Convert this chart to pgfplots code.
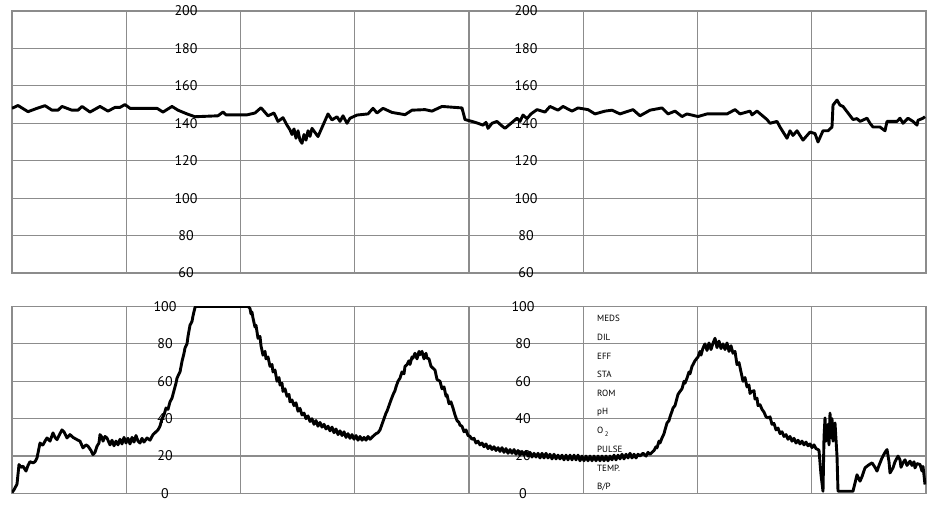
\documentclass[border=0pt]{standalone}
\usepackage{pgfplots}
\pgfplotsset{compat=1.18}
\usepackage{fontspec}
\setmainfont{PT Sans}
\definecolor{gridgray}{HTML}{8C8C8C}
\pgfplotsset{
  ctg/.style={
    anchor=south west, scale only axis, width=914pt,
    xmin=12, xmax=926,
    xtick={12,126.25,240.5,354.75,469,583.25,697.5,811.75,926},
    xticklabels={}, yticklabels={},
    major tick length=0pt,
    grid=major,
    major grid style={gridgray, line width=1.2pt},
    axis line style={gridgray, line width=1.2pt},
    clip mode=individual,
  },
  trace/.style={black, line width=2.9pt, line join=round, no marks},
}
\begin{document}
\begin{tikzpicture}
\path[use as bounding box] (0,0) rectangle (934pt,511pt);
% ---------------- top panel: FHR ----------------
\begin{axis}[ctg, at={(12pt,238pt)}, height=262pt, ymin=60, ymax=200,
  ytick={60,80,100,120,140,160,180,200}]
\addplot[trace] coordinates {
(12,148) (18,149.5) (28,146.2) (37,148) (45,149.4) (52,147) (58,147) (62,149)
(72,147) (78,147) (82,149) (90,146) (100,149) (108,146.5) (115,148.5) (120,148.5)
(125,150) (130,148) (157,148) (163,146) (172,149) (178,147) (187,145) (195,143.5)
(218,144) (223,146) (226,144.5) (247,144.5) (255,145.5) (261,148.3) (268,144)
(274,145.5) (278,141) (283,143) (287,139) (290,136.5) (292,134) (294,137) (296,132)
(298,136) (300,131) (302,129.3) (304,134) (306,131) (308,136) (310,133) (312,137.3)
(318,132.9) (328,145) (332,141.8) (337,143.5) (340,141) (343,144) (347,140)
(350,142.7) (357,144.4) (368,145) (373,148) (377,145.5) (383,148) (392,145.8)
(405,144.6) (412,147) (425,147.3) (432,146.5) (442,149) (462,148.2) (465,142)
(472,141) (478,140) (483,139) (486,140.5) (488,137.3) (492,140) (497,141) (501,139)
(505,137.3) (511,140) (517,142.7) (520,141) (523,144.4) (527,142.5) (531,145)
(537,147.3) (545,146) (550,149) (558,147) (563,149) (572,146.5) (578,148.2)
(588,147.3) (595,145) (605,146.5) (612,147) (620,145) (633,147.3) (640,144)
(650,147) (662,148.2) (668,145) (675,146.5) (682,143.6) (687,145) (698,143.6)
(707,145) (727,145) (735,147.3) (740,145) (750,146.5) (752,144.5) (757,146.5)
(767,142) (770,140) (777,141) (780,138) (787,132) (790,136) (793,133.5) (797,136)
(803,131) (810,135.3) (815,134.5) (818,130) (823,136) (828,136) (832,138)
(833,149.7) (837,152.4) (840,149.7) (843,149) (853,142) (857,142.5) (860,141)
(867,142.7) (870,140) (873,138) (880,138) (885,136) (887,141) (897,141) (900,142.7)
(903,140) (908,142.7) (913,141) (917,139) (918,141.6) (923,142.7) (925,143.5)
};
\begin{scope}[font=\fontsize{14}{16}\selectfont]
\node at (axis cs:186,200) {200};
\node at (axis cs:186,180) {180};
\node at (axis cs:186,160) {160};
\node at (axis cs:186,140) {140};
\node at (axis cs:186,120) {120};
\node at (axis cs:186,100) {100};
\node at (axis cs:186,80) {80};
\node at (axis cs:186,60) {60};
\node at (axis cs:526,200) {200};
\node at (axis cs:526,180) {180};
\node at (axis cs:526,160) {160};
\node at (axis cs:526,140) {140};
\node at (axis cs:526,120) {120};
\node at (axis cs:526,100) {100};
\node at (axis cs:526,80) {80};
\node at (axis cs:526,60) {60};
\end{scope}
\end{axis}
% ---------------- bottom panel: UC ----------------
\begin{axis}[ctg, at={(12pt,17.5pt)}, height=187pt, ymin=0, ymax=100,
  ytick={0,20,40,60,80,100}]
\addplot[trace] coordinates {
(12,0.5) (14,2) (17,5) (19,15.5) (21,14) (23,14.6) (26,12) (28,15) (30,17) (33,16.4)
(35,17) (37,19) (40,27) (42,26) (43,26) (45,28) (47,29.7) (50,28) (53,32.4) (55,30)
(57,28.8) (60,32) (62,34) (64,33) (67,29.7) (70,31.5) (73,30) (77,28.8) (80,28)
(83,24.4) (86,26) (88,25.3) (91,23) (93,20.8) (95,22) (97,25.3) (99,27) (100,31.5)
(102,30) (103,28) (105,30.5) (107,29.7) (110,26) (112,28.5) (114,25.5) (116,28)
(118,26) (120,29) (122,26.5) (124,30) (126,27) (128,29.5) (130,26.5) (132,30)
(134,27.5) (136,31) (138,28) (140,27) (142,29.5) (144,27.5) (147,29.7) (150,28.5)
(153,31.5) (156,33) (158,34) (160,36) (162,40) (164,42) (166,45.7) (168,45) (170,49)
(172,51) (174,55) (176,59) (177,61.7) (179,64) (180,65) (182,70.6) (184,75)
(185,77.8) (187,80) (188,84) (190,90) (192,92) (193,95) (195,99.5) (196,100)
(248,100) (250,99) (251,96) (252,97) (253,93.8) (255,89) (256,90) (258,83) (260,84)
(261,79) (263,74) (265,76) (266,72) (268,73) (270,68) (272,69) (273,65) (275,66)
(277,60) (279,62) (280,58) (282,59) (283,54.6) (285,56) (287,52) (289,53) (290,49)
(292,50) (294,47) (296,48.5) (298,44) (300,45.5) (302,42) (304,43) (306,40)
(308,41.5) (310,38.5) (312,40) (314,37) (316,39) (318,36) (320,38) (322,35.5)
(324,37) (326,34.5) (328,36) (330,33.5) (332,35.5) (334,32.5) (336,34.5) (338,31.5)
(340,33.5) (342,31) (344,33) (346,30) (348,32) (350,29.5) (352,31.5) (354,29)
(356,31) (358,28.5) (360,30.5) (362,28.5) (364,30) (366,28.5) (368,30.5) (370,29)
(373,30.6) (376,32) (378,32.5) (380,34) (382,37) (384,40) (386,43) (387,44) (389,47)
(391,50) (393,52.8) (395,55) (396,57) (398,60) (400,61.7) (402,65) (404,64) (405,68)
(407,68.9) (409,71) (410,69) (412,73) (413,72.4) (415,75) (417,72) (419,76)
(420,74.2) (422,76) (424,72) (426,75) (427,72.4) (429,72) (431,68) (433,67) (435,66)
(437,61) (440,60) (442,56) (444,57) (446,52) (447,52.8) (449,48) (451,49) (453,45.7)
(455,42) (457,39) (459,38) (460,36.5) (462,36) (464,33) (466,34) (468,31) (470,30.6)
(472,29) (474,29.5) (476,27) (478,28) (480,26) (482,27) (484,25) (486,26.5) (488,24)
(490,25.5) (492,23.5) (494,25) (496,23) (498,24.5) (500,22.5) (502,24.5) (504,22)
(506,24) (508,21.5) (510,23.5) (512,21.5) (514,23.5) (516,21) (518,23) (520,20.5)
(522,22.5) (524,20.5) (526,22.5) (528,20) (530,22) (532,19.5) (534,21.5) (536,19.5)
(538,21.5) (540,19) (542,21.5) (544,19) (546,21.5) (548,19) (550,21) (552,18.5)
(554,21) (556,18.5) (558,20.5) (560,18.5) (562,20.5) (564,18) (566,20.5) (568,18)
(570,20.5) (572,18) (574,20.5) (576,18) (578,20.5) (580,17.5) (582,20) (584,17.5)
(586,20) (588,17.5) (590,20) (592,17.5) (594,20) (596,17.5) (598,20) (600,17.5)
(602,20) (604,17.5) (606,20) (608,17.5) (610,20) (612,18) (614,20.5) (616,18)
(618,20.5) (620,18.5) (622,21) (624,18.5) (626,21) (628,19) (630,21.5) (632,19)
(634,21) (636,19) (638,21) (640,20) (643,21.5) (646,20) (648,22) (650,21) (652,22)
(654,23) (656,25) (657,24.4) (659,28) (660,27) (662,29.7) (664,32) (665,34)
(667,37.7) (669,39) (670,41) (672,44) (673,45.7) (675,47) (677,51) (678,53)
(680,54.6) (682,56) (684,60) (685,59) (687,61.7) (689,65) (690,64) (692,68)
(693,68.9) (695,71) (697,72.4) (698,73) (700,76) (701,74) (703,77.8) (705,80)
(707,76.5) (709,80.5) (711,77) (713,80.4) (715,83) (717,78) (719,81.5) (721,77.5)
(723,80) (725,77) (727,80.5) (729,76) (731,79) (733,75) (735,76) (737,68.9) (739,70)
(741,65) (743,60) (745,62) (747,57) (749,58) (750,53.5) (752,54.6) (754,55)
(755,50.5) (757,51) (758,47) (760,47.5) (762,45) (764,43.5) (766,41) (768,40.4)
(770,41) (772,37) (774,37.5) (776,34) (778,35) (780,32) (782,33) (784,30.5)
(786,31.5) (788,29) (790,30.5) (792,28) (794,29.5) (796,27) (798,28.5) (800,26.5)
(802,28) (804,26) (806,27.5) (808,25.5) (810,26.5) (812,24.5) (814,26) (816,24)
(818,23.5) (819,23) (821,10) (823,1.2) (824,30) (825,40.4) (826,28) (828,37)
(829,26) (830,43) (831,30) (832,40) (833,28) (835,37.7) (837,20) (838,1.2)
(853,1.2) (857,10) (860,6.6) (862,9) (865,13.7) (868,15) (872,16.4) (875,14)
(877,12) (879,15) (882,19) (885,22) (887,23.5) (889,17) (890,11) (893,13.7) (895,17)
(898,20) (900,18) (901,14) (903,16.4) (905,18) (907,15) (910,17.3) (912,15)
(914,17) (915,13.7) (917,16) (920,15.5) (922,12) (923,14.5) (925,4.8)
};
\begin{scope}[font=\fontsize{14}{16}\selectfont]
\node at (axis cs:165,100) {100};
\node at (axis cs:165,80) {80};
\node at (axis cs:165,60) {60};
\node at (axis cs:165,40) {40};
\node at (axis cs:165,20) {20};
\node at (axis cs:165,0) {0};
\node at (axis cs:523,100) {100};
\node at (axis cs:523,80) {80};
\node at (axis cs:523,60) {60};
\node at (axis cs:523,40) {40};
\node at (axis cs:523,20) {20};
\node at (axis cs:523,0) {0};
\end{scope}
\begin{scope}[font=\fontsize{9}{10}\selectfont, inner xsep=0pt]
\node[anchor=west] at (axis cs:597,93.5) {MEDS};
\node[anchor=west] at (axis cs:597,83.5) {DIL};
\node[anchor=west] at (axis cs:597,73.5) {EFF};
\node[anchor=west] at (axis cs:597,63.5) {STA};
\node[anchor=west] at (axis cs:597,53.5) {ROM};
\node[anchor=west] at (axis cs:597,43.5) {pH};
\node[anchor=west] at (axis cs:597,33) {O\,\raisebox{-0.45ex}{\fontsize{6.5}{7}\selectfont 2}};
\node[anchor=west] at (axis cs:597,23.5) {PULSE};
\node[anchor=west] at (axis cs:597,13.5) {TEMP.};
\node[anchor=west] at (axis cs:597,3.5) {B/P};
\end{scope}
\end{axis}
\end{tikzpicture}
\end{document}
